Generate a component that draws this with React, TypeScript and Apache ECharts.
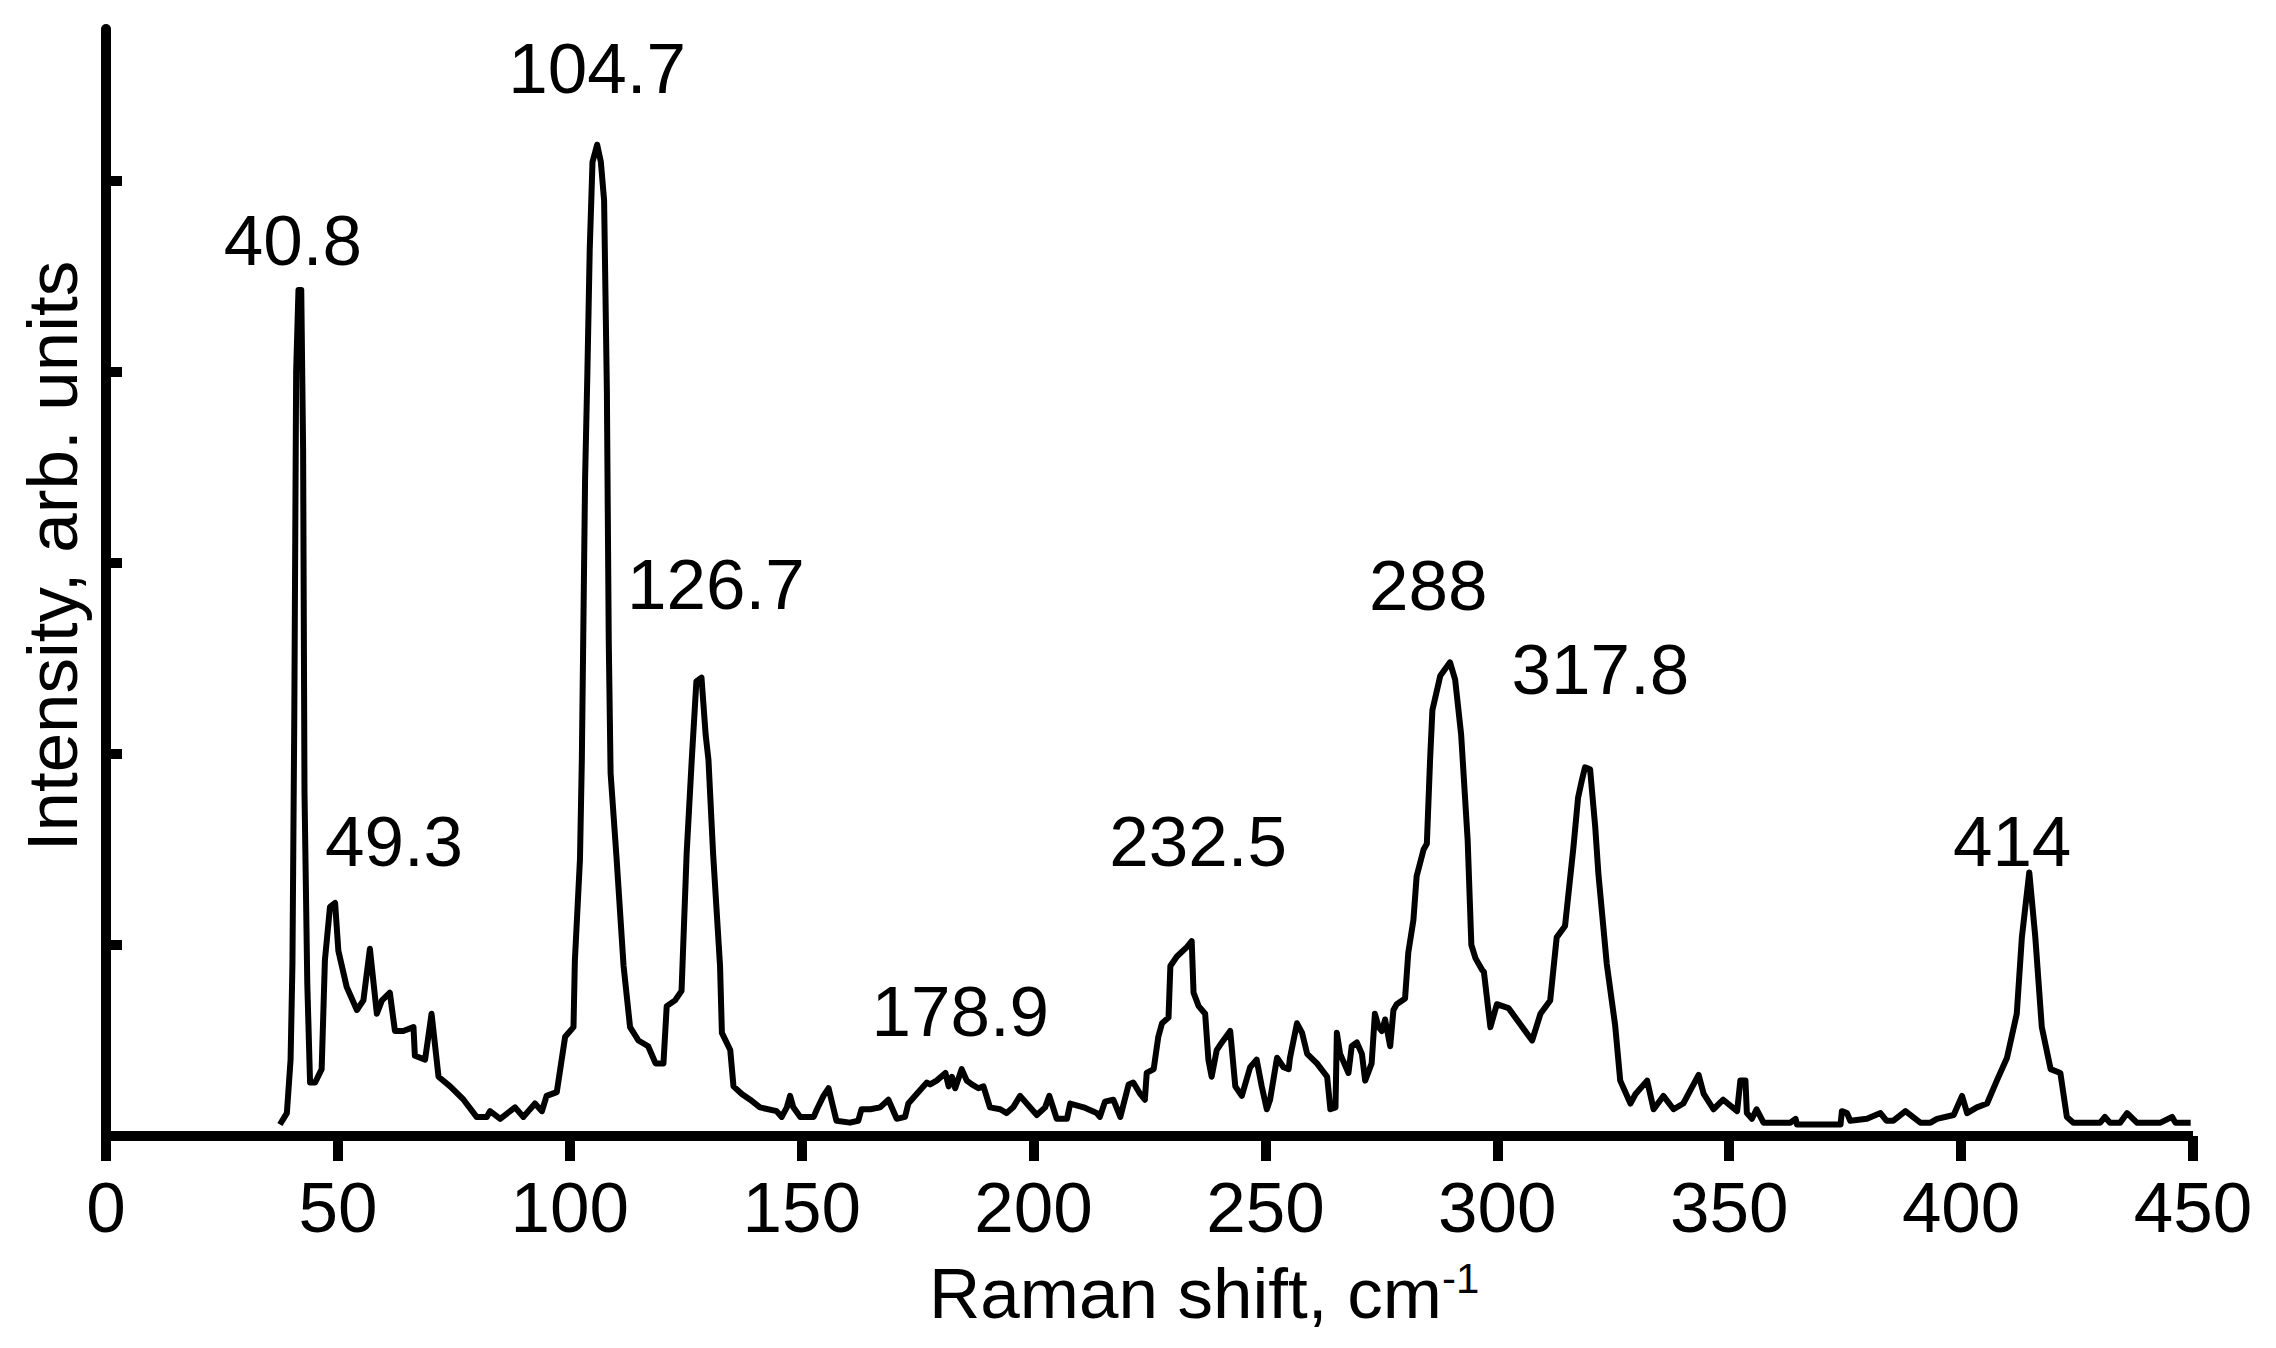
import React, { useEffect, useRef } from "react";
import * as echarts from "echarts";

// Raman spectrum (x in cm^-1, y in tick units)
const ramanShift = [
  37.5, 39.0, 39.8, 40.2, 40.6, 41.0, 41.5, 42.1, 42.5, 42.8, 43.4, 44.0, 45.1, 46.5, 47.2, 48.3, 49.4, 50.1, 51.9, 54.1,
  55.5, 56.9, 58.4, 59.5, 61.2, 62.3, 64.1, 66.3, 66.6, 68.8, 70.2, 71.7, 74.2, 77.1, 79.9, 82.1, 82.8, 85.0, 88.2, 90.0,
  92.5, 94.0, 95.0, 97.2, 99.0, 100.8, 101.1, 102.2, 102.6, 103.3, 103.8, 104.3, 104.9, 105.9, 106.7, 107.4, 108.0, 108.4, 108.8, 110.1,
  111.6, 113.0, 114.8, 116.9, 118.5, 120.2, 120.9, 122.7, 124.1, 125.2, 126.3, 127.3, 128.4, 129.3, 129.9, 130.9, 132.4, 132.8, 134.6, 135.3,
  137.1, 138.9, 141.0, 144.6, 145.7, 146.8, 147.5, 148.2, 149.7, 152.6, 153.3, 154.7, 155.8, 156.8, 157.5, 160.4, 162.2, 162.9, 164.8, 166.9,
  168.7, 170.5, 172.3, 173.0, 174.8, 177.0, 177.7, 179.1, 181.0, 181.7, 182.4, 183.1, 184.5, 185.6, 186.7, 188.1, 189.2, 190.6, 192.8, 194.2,
  195.6, 197.1, 198.9, 200.7, 202.5, 203.4, 205.0, 207.2, 207.9, 210.8, 213.6, 214.3, 215.4, 217.2, 218.7, 220.5, 221.5, 223.0, 224.0, 224.4,
  225.9, 226.9, 227.7, 229.1, 229.5, 230.9, 233.1, 234.1, 234.5, 235.6, 237.0, 237.7, 238.4, 239.5, 240.6, 242.4, 243.5, 244.9, 246.7, 248.1,
  249.2, 250.3, 251.0, 252.5, 253.9, 255.0, 255.3, 256.8, 257.9, 259.0, 261.1, 263.3, 264.0, 265.1, 265.4, 266.1, 267.9, 268.6, 269.7, 270.8,
  271.5, 272.9, 273.6, 274.4, 275.1, 275.8, 276.9, 277.6, 278.3, 280.1, 280.8, 281.9, 282.6, 284.1, 284.8, 285.5, 286.0, 287.7, 289.8, 290.9,
  292.2, 293.6, 294.4, 295.3, 296.7, 297.1, 298.5, 299.9, 302.4, 307.5, 309.3, 311.4, 312.8, 314.6, 316.4, 317.4, 318.2, 318.9, 320.0, 321.1,
  321.8, 323.6, 325.4, 326.5, 328.7, 329.8, 332.3, 333.7, 335.8, 338.0, 340.1, 343.4, 344.5, 346.6, 348.7, 351.7, 352.4, 353.5, 353.8, 354.9,
  355.9, 357.4, 363.2, 364.3, 364.6, 374.0, 374.3, 375.4, 376.1, 379.7, 382.6, 383.9, 385.4, 388.0, 391.2, 393.4, 394.8, 398.4, 400.2, 401.3,
  403.4, 405.6, 407.7, 409.9, 412.0, 413.1, 414.7, 416.0, 417.4, 419.3, 421.4, 422.8, 424.2, 430.0, 431.0, 432.1, 434.3, 435.8, 437.9, 443.0,
  445.5, 446.2, 449.5,
];

const intensity = [
  0.06, 0.12, 0.40, 0.90, 2.20, 4.00, 4.43, 4.43, 3.60, 1.80, 0.80, 0.28, 0.28, 0.35, 0.92, 1.20, 1.22, 0.97, 0.78, 0.66,
  0.71, 0.98, 0.64, 0.71, 0.75, 0.55, 0.55, 0.57, 0.42, 0.40, 0.64, 0.31, 0.26, 0.19, 0.10, 0.10, 0.13, 0.09, 0.15, 0.10,
  0.17, 0.13, 0.21, 0.23, 0.52, 0.57, 0.92, 1.45, 1.97, 3.44, 4.00, 4.64, 5.10, 5.19, 5.10, 4.90, 3.90, 2.60, 1.90, 1.45,
  0.89, 0.57, 0.50, 0.47, 0.38, 0.38, 0.68, 0.71, 0.76, 1.48, 1.97, 2.38, 2.40, 2.10, 1.97, 1.48, 0.89, 0.54, 0.45, 0.26,
  0.22, 0.19, 0.15, 0.13, 0.10, 0.15, 0.21, 0.15, 0.10, 0.10, 0.14, 0.21, 0.25, 0.15, 0.08, 0.07, 0.08, 0.14, 0.14, 0.15,
  0.19, 0.09, 0.10, 0.17, 0.22, 0.28, 0.27, 0.29, 0.33, 0.26, 0.31, 0.25, 0.35, 0.29, 0.27, 0.25, 0.26, 0.15, 0.14, 0.12,
  0.15, 0.21, 0.16, 0.11, 0.15, 0.21, 0.09, 0.09, 0.17, 0.15, 0.12, 0.10, 0.18, 0.19, 0.10, 0.27, 0.28, 0.22, 0.19, 0.33,
  0.35, 0.52, 0.59, 0.62, 0.89, 0.94, 0.99, 1.02, 0.75, 0.68, 0.64, 0.40, 0.31, 0.45, 0.49, 0.55, 0.26, 0.21, 0.36, 0.40,
  0.26, 0.14, 0.19, 0.41, 0.36, 0.35, 0.41, 0.59, 0.54, 0.43, 0.38, 0.31, 0.14, 0.15, 0.54, 0.43, 0.33, 0.47, 0.49, 0.43,
  0.29, 0.38, 0.64, 0.57, 0.55, 0.61, 0.47, 0.66, 0.69, 0.72, 0.96, 1.13, 1.36, 1.50, 1.53, 1.97, 2.23, 2.41, 2.48, 2.39,
  2.10, 1.55, 1.00, 0.93, 0.87, 0.86, 0.57, 0.69, 0.67, 0.50, 0.64, 0.71, 1.04, 1.10, 1.51, 1.77, 1.86, 1.93, 1.92, 1.62,
  1.37, 0.90, 0.58, 0.29, 0.17, 0.22, 0.29, 0.14, 0.21, 0.14, 0.17, 0.32, 0.22, 0.14, 0.19, 0.13, 0.29, 0.29, 0.12, 0.09,
  0.14, 0.07, 0.07, 0.09, 0.06, 0.06, 0.13, 0.12, 0.08, 0.09, 0.12, 0.08, 0.08, 0.13, 0.07, 0.07, 0.09, 0.11, 0.21, 0.12,
  0.15, 0.17, 0.29, 0.41, 0.64, 1.04, 1.38, 1.04, 0.57, 0.35, 0.33, 0.10, 0.07, 0.07, 0.10, 0.07, 0.07, 0.12, 0.07, 0.07,
  0.10, 0.07, 0.07,
];

// Peak annotations (text and the data position of the text centre)
const peakLabels = ["40.8", "104.7", "49.3", "126.7", "178.9", "232.5", "288", "317.8", "414"];
const peakLabelX = [40.3, 105.9, 62.1, 131.5, 184.2, 235.5, 285.1, 322.2, 411.0];
const peakLabelY = [4.69, 5.59, 1.54, 2.89, 0.65, 1.54, 2.88, 2.44, 1.54];

// Axes
const xMin = 0;
const xMax = 450;
const xInterval = 50;
const yMin = 0;
const yMax = 5.796;
const yTickValues = [1, 2, 3, 4, 5];

const xTitle = "Raman shift, cm";
const xTitleSup = "-1";
const yTitle = "Intensity, arb. units";

const FONT = '"Liberation Sans", Arial, Helvetica, sans-serif';

export default function App() {
  const ref = useRef<HTMLDivElement>(null);

  useEffect(() => {
    if (!ref.current) return;
    const chart = echarts.init(ref.current, null, { renderer: "svg" });
    chart.setOption({
      animation: false,
      backgroundColor: "#ffffff",
      grid: { left: 106, right: 83, top: 29, bottom: 212, containLabel: false },
      xAxis: {
        type: "value",
        min: xMin,
        max: xMax,
        interval: xInterval,
        axisLine: { show: true, onZero: false, lineStyle: { color: "#000", width: 10, cap: "butt" } },
        axisTick: { show: true, length: 25, lineStyle: { color: "#000", width: 10 } },
        axisLabel: { show: true, color: "#000", fontSize: 71, fontFamily: FONT, margin: 36 },
        splitLine: { show: false },
      },
      yAxis: {
        type: "value",
        min: yMin,
        max: yMax,
        interval: 1,
        axisLine: { show: true, onZero: false, lineStyle: { color: "#000", width: 10 } },
        axisTick: {
          show: true,
          inside: true,
          length: 16,
          customValues: yTickValues,
          lineStyle: { color: "#000", width: 10 },
        },
        axisLabel: { show: false },
        splitLine: { show: false },
      },
      series: [
        {
          type: "line",
          data: ramanShift.map((x, i) => [x, intensity[i]]),
          symbol: "none",
          showSymbol: false,
          silent: true,
          lineStyle: { color: "#000", width: 6, join: "round" },
        },
        {
          type: "scatter",
          data: peakLabelX.map((x, i) => [x, peakLabelY[i], peakLabels[i]]),
          symbolSize: 1,
          silent: true,
          itemStyle: { color: "rgba(0,0,0,0)", opacity: 1 },
          label: {
            show: true,
            position: "inside",
            formatter: (p: any) => p.data[2],
            fontSize: 71,
            fontFamily: FONT,
            color: "#000",
            opacity: 1,
          },
        },
      ],
      graphic: [
        {
          type: "text",
          x: 929,
          y: 1293,
          silent: true,
          style: {
            text: xTitle + "{sup|" + xTitleSup + "}",
            fontSize: 71,
            fontFamily: FONT,
            fill: "#000",
            textAlign: "left",
            textVerticalAlign: "middle",
            rich: {
              sup: { fontSize: 42, fontFamily: FONT, fill: "#000", verticalAlign: "top", padding: [0, 0, 22, 0] },
            },
          },
        },
        {
          type: "text",
          x: 52,
          y: 556,
          rotation: Math.PI / 2,
          silent: true,
          style: {
            text: yTitle,
            fontSize: 71,
            fontFamily: FONT,
            fill: "#000",
            textAlign: "center",
            textVerticalAlign: "middle",
          },
        },
      ],
    });
    return () => chart.dispose();
  }, []);

  return (
    <div
      ref={ref}
      style={{ position: "absolute", left: 0, top: 0, width: 2276, height: 1348, background: "#fff" }}
    />
  );
}
